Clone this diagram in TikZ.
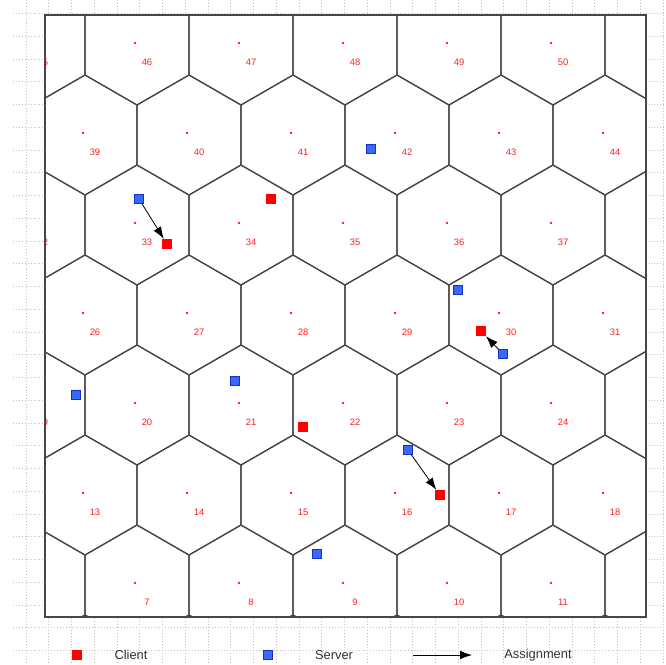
\documentclass[tikz,border=0pt]{standalone}
\usepackage{fontspec}
\setmainfont{Liberation Sans}
\usetikzlibrary{arrows.meta}
\definecolor{gridclr}{RGB}{195,195,195}
\definecolor{edgeclr}{RGB}{70,70,70}
\definecolor{frameclr}{RGB}{70,70,70}
\definecolor{siteclr}{RGB}{255,30,30}
\definecolor{srvfill}{RGB}{55,105,250}
\definecolor{srvdraw}{RGB}{25,45,200}
\definecolor{legclr}{RGB}{50,50,50}
\tikzset{
  gridline/.style={gridclr,dotted,line width=0.5pt},
  celledge/.style={edgeclr,line width=1pt,line join=round},
  sitelbl/.style={text=siteclr,font=\fontsize{8}{9}\selectfont,inner sep=0pt},
  client/.style={fill=red,minimum size=0.3cm,inner sep=0pt},
  server/.style={fill=srvfill,draw=srvdraw,line width=0.6pt,minimum size=0.26cm,inner sep=0pt},
  assign/.style={-{Latex[length=3.6mm,width=2.6mm]},line width=0.7pt,black},
  legtext/.style={text=legclr,font=\fontsize{11}{12}\selectfont,inner sep=0pt}
}
\begin{document}
\begin{tikzpicture}[x=0.03cm,y=-0.03cm]
  \useasboundingbox (0,0) rectangle (666,664);
  % Background grid
  \foreach \k in {0,...,28} {
    \draw[gridline] (26+22.75*\k,0) -- (26+22.75*\k,664);
    \draw[gridline] (13,13.3+22.75*\k) -- (666,13.3+22.75*\k);
  }
  \fill[white] (45,15) rectangle (646,617);
  \begin{scope}
    \clip (45,15) rectangle (646,617);
    % Hexagonal cells
    \foreach \y/\xo in {45/33,135/85,225/33,315/85,405/33,495/85,585/33,675/85} {
      \foreach \i in {-1,...,6} {
        \draw[celledge] (\xo+104*\i,\y-60) -- ++(52,30) -- ++(0,60) -- ++(-52,30)
          -- ++(-52,-30) -- ++(0,-60) -- cycle;
      }
    }
    % Sites and their numbers
    \foreach \y/\xo/\first/\imin in {45/33/45/0,135/85/39/0,225/33/32/0,315/85/26/0,405/33/19/0,495/85/13/0,585/33/6/1} {
      \foreach \i in {\imin,...,5} {
        \pgfmathtruncatemacro{\n}{\first+\i}
        \pgfmathsetmacro{\xc}{\xo+104*\i}
        \fill[siteclr] (\xc-2,\y-2) circle (1.1pt);
        \node[sitelbl] (s\n) at (\xc+10,\y+17) {\n};
      }
    }
  \end{scope}
  \draw[frameclr,line width=1.3pt] (45,15) rectangle (646,617);
  % Clients
  \node[client] (c1) at (271,199) {};
  \node[client] (c2) at (167,244) {};
  \node[client] (c3) at (481,331) {};
  \node[client] (c4) at (303,427) {};
  \node[client] (c5) at (440,495) {};
  % Servers
  \node[server] (v1) at (139,199) {};
  \node[server] (v2) at (371,149) {};
  \node[server] (v3) at (458,290) {};
  \node[server] (v4) at (503,354) {};
  \node[server] (v5) at (235,381) {};
  \node[server] (v6) at (76,395) {};
  \node[server] (v7) at (408,450) {};
  \node[server] (v8) at (317,554) {};
  % Assignments
  \draw[assign] (v1) -- (c2);
  \draw[assign] (v4) -- (c3);
  \draw[assign] (v7) -- (c5);
  % Legend
  \node[client] (lgc) at (77,655) {};
  \node[legtext] (lgct) at (131,655) {Client};
  \node[server] (lgs) at (268,655) {};
  \node[legtext] (lgst) at (334,655) {Server};
  \coordinate (lga) at (413,655);
  \coordinate (lgb) at (472,655);
  \draw[assign] (lga) -- (lgb);
  \node[legtext] (lgat) at (538,655) {Assignment};
\end{tikzpicture}
\end{document}
